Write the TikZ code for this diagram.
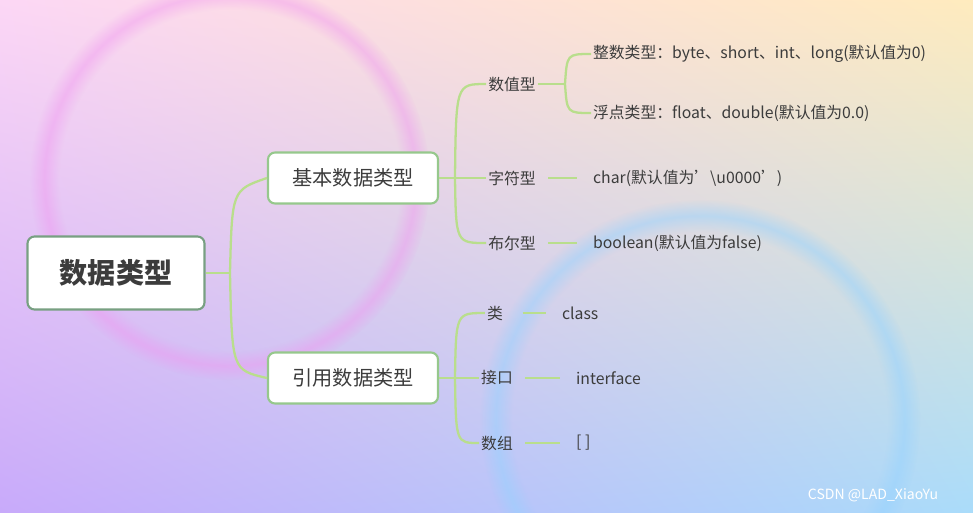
\documentclass[tikz,border=0pt]{standalone}
\usepackage{fontspec}
\setmainfont{Noto Sans CJK SC}
\usepackage{tikz}
\usetikzlibrary{fadings,shadings}
\definecolor{branch}{RGB}{185,222,140}
\definecolor{boxline}{RGB}{150,200,140}
\definecolor{rootline}{RGB}{120,160,130}
\definecolor{ink}{RGB}{60,60,60}
\definecolor{bgUL}{RGB}{252,215,245}
\definecolor{bgUR}{RGB}{255,235,190}
\definecolor{bgLL}{RGB}{200,170,250}
\definecolor{bgLR}{RGB}{170,220,250}
\definecolor{blobPink}{RGB}{240,150,240}
\definecolor{blobBlue}{RGB}{150,210,255}

\begin{document}
\begin{tikzpicture}[x=0.02cm,y=-0.02cm,
    box/.style={draw=boxline, line width=1.2pt, fill=white, rounded corners=4pt,
        minimum width=170*0.02cm, minimum height=51*0.02cm, text=ink, font=\fontsize{11.5}{13}\selectfont},
    leaf/.style={text=ink, font=\fontsize{9}{11}\selectfont, inner sep=1pt},
    link/.style={draw=branch, line width=1.3pt}]
    % Background
    \useasboundingbox (0,0) rectangle (973,512);
    \shade[upper left=bgUL, upper right=bgUR, lower left=bgLL, lower right=bgLR]
        (0,0) rectangle (973,512);
    \fill[blobPink, opacity=0.45, path fading=fuzzy ring 15 percent] (230,180) circle (200);
    \fill[blobBlue, opacity=0.5, path fading=fuzzy ring 15 percent] (700,420) circle (220);

    % Nodes
    \node[box, draw=rootline, minimum width=177*0.02cm, minimum height=73*0.02cm,
        font=\fontsize{16}{18}\selectfont\bfseries] (root) at (116,273) {数据类型};
    \node[box] (basic) at (353,178) {基本数据类型};
    \node[box] (ref) at (353,378) {引用数据类型};

    \node[leaf] (num) at (512,84) {数值型};
    \node[leaf] (chr) at (512,178) {字符型};
    \node[leaf] (bool) at (512,243) {布尔型};
    \node[leaf, anchor=west] (int) at (591,54) {整数类型：byte、short、int、long(默认值为0)};
    \node[leaf, anchor=west] (flt) at (591,113) {浮点类型：float、double(默认值为0.0)};
    \node[leaf, anchor=west] (charv) at (591,178) {char(默认值为'\textbackslash u0000')};
    \node[leaf, anchor=west] (boolv) at (591,243) {boolean(默认值为false)};

    \node[leaf] (cls) at (495,313) {类};
    \node[leaf] (itf) at (497,378) {接口};
    \node[leaf] (arr) at (497,443) {数组};
    \node[leaf, anchor=west] (clsv) at (560,313) {class};
    \node[leaf, anchor=west] (itfv) at (574,378) {interface};
    \node[leaf, anchor=west] (arrv) at (574,443) {[ ]};

    \node[text=white, font=\fontsize{8}{10}\selectfont] (mark) at (873,495) {CSDN @LAD\_XiaoYu};

    % Connectors
    \draw[link] (root.east) -- (230,273);
    \draw[link] (230,273) .. controls (232,190) .. (basic.west);
    \draw[link] (230,273) .. controls (232,370) .. (ref.west);

    \draw[link] (basic.east) -- (455,178);
    \draw[link] (455,178) .. controls (456,84) .. (num.west);
    \draw[link] (455,178) -- (chr.west);
    \draw[link] (455,178) .. controls (456,243) .. (bool.west);

    \draw[link] (num.east) -- (565,84);
    \draw[link] (565,84) .. controls (567,54) .. (int.west);
    \draw[link] (565,84) .. controls (567,113) .. (flt.west);
    \draw[link] ([xshift=6]chr.east) -- ([xshift=-8]charv.west);
    \draw[link] ([xshift=6]bool.east) -- ([xshift=-8]boolv.west);

    \draw[link] (ref.east) -- (455,378);
    \draw[link] (455,378) .. controls (456,313) .. (cls.west);
    \draw[link] (455,378) -- (itf.west);
    \draw[link] (455,378) .. controls (456,443) .. (arr.west);
    \draw[link] ([xshift=10]cls.east) -- ([xshift=-8]clsv.west);
    \draw[link] ([xshift=6]itf.east) -- ([xshift=-8]itfv.west);
    \draw[link] ([xshift=6]arr.east) -- ([xshift=-8]arrv.west);
\end{tikzpicture}
\end{document}
